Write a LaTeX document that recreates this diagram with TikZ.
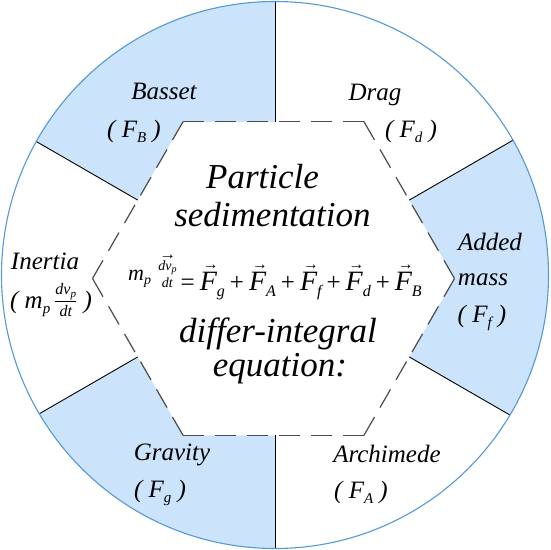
\documentclass[tikz,border=0pt]{standalone}
\usepackage{amsmath}
\usepackage{graphicx}
\usepackage{fontspec}
\setmainfont{Liberation Serif}
\definecolor{fillblue}{RGB}{204,228,251}
\definecolor{rimblue}{RGB}{84,152,214}
\definecolor{hexgray}{RGB}{75,75,75}
\newcommand\fsz[1]{\fontsize{#1}{#1}\selectfont}
\newcommand\lsub[1]{\raisebox{-5pt}{\fsz{15}#1}}
\newcommand\ovarr[3]{\setbox0\hbox{#3}\rlap{\hspace{#1}\raisebox{\dimexpr\ht0+#2\relax}{\resizebox{0.92\wd0}{4.5pt}{\upshape →}}}\box0}
\newcommand\eqF[1]{\ovarr{3pt}{2.5pt}{F}\raisebox{-6pt}{\fsz{16}#1}}
\newcommand\eqplus{\hspace{5pt}{\upshape\fsz{25}+}\hspace{5pt}}
\begin{document}
\begin{tikzpicture}[x=1pt,y=-1pt,
  lbl/.style={font=\fsz{25}\itshape, inner sep=0pt, anchor=base},
  big/.style={font=\fsz{35}\itshape, inner sep=0pt, anchor=base},
  divline/.style={black, line width=0.9pt},
  hexline/.style={hexgray, line width=1.2pt, dash pattern=on 21pt off 11pt},
  rim/.style={rimblue, line width=1.1pt}]
\useasboundingbox (0,0) rectangle (550,550);
\coordinate (C) at (275,275);
\coordinate (TL) at (183,121.75);
\coordinate (TR) at (364,121.75);
\coordinate (R) at (454.5,278.5);
\coordinate (BR) at (364,435.25);
\coordinate (BL) at (183,435.25);
\coordinate (L) at (92.5,278.5);
\coordinate (MUL) at (137.75,200.1);
\coordinate (MUR) at (409.25,200.1);
\coordinate (MLL) at (137.75,356.9);
\coordinate (MLR) at (409.25,356.9);
\coordinate (MT) at (275,121.75);
\coordinate (MB) at (275,435.25);
\coordinate (FUL) at (-208.6,0.1);
\coordinate (FUR) at (755.6,0.1);
\coordinate (FLL) at (-208.6,556.9);
\coordinate (FLR) at (755.6,556.9);
\coordinate (FT) at (275,-300);
\coordinate (FB) at (275,850);
\begin{scope}
  \clip (C) circle[radius=273.5pt];
  \fill[fillblue] (MUL) -- (FUL) -- (FT) -- (MT) -- (TL) -- cycle;
  \fill[fillblue] (MUR) -- (FUR) -- (FLR) -- (MLR) -- (R) -- cycle;
  \fill[fillblue] (MLL) -- (FLL) -- (FB) -- (MB) -- (BL) -- cycle;
  \draw[divline] (MUL) -- (FUL);
  \draw[divline] (MUR) -- (FUR);
  \draw[divline] (MLL) -- (FLL);
  \draw[divline] (MLR) -- (FLR);
  \draw[divline] (MT) -- (FT);
  \draw[divline] (MB) -- (FB);
\end{scope}
\draw[rim] (C) circle[radius=273.5pt];
\draw[hexline] (TL) -- (TR);
\draw[hexline] (TR) -- (R);
\draw[hexline] (R) -- (BR);
\draw[hexline] (BR) -- (BL);
\draw[hexline] (BL) -- (L);
\draw[hexline] (L) -- (TL);
% labels
\node[lbl] (basset) at (164,99) {Basset};
\node[lbl] (fB) at (134,137) {( F\lsub{B} )};
\node[lbl] (drag) at (375,100) {Drag};
\node[lbl] (fd) at (411,137) {( F\lsub{d} )};
\node[lbl] (added) at (490,250) {Added};
\node[lbl] (mass) at (483,285) {mass};
\node[lbl] (ff) at (482,322) {( F\lsub{f} )};
\node[lbl] (inertia) at (45,269) {Inertia};
\node[lbl] (mdt) at (51,308) {( m\lsub{p}\hspace{4pt}$\frac{\hbox{\fsz{16}dv\raisebox{-3pt}{\fsz{11}p}}}{\hbox{\fsz{16}dt}}$ )};
\node[lbl] (gravity) at (172,460) {Gravity};
\node[lbl] (fg) at (160,497) {( F\lsub{g} )};
\node[lbl] (archimede) at (387,462) {Archimede};
\node[lbl] (fA) at (361,498) {( F\lsub{A} )};
% centre text
\node[big] (particle) at (262.5,188) {Particle};
\node[big] (sedim) at (272.5,226) {sedimentation};
\node[big] (differ) at (278,342) {differ-integral};
\node[big] (equation) at (280,376) {equation:};
\node[anchor=base, inner sep=0pt, font=\fsz{28}\itshape] (eq) at (275,290) {%
  \raisebox{10pt}{\fsz{22}m\raisebox{-4pt}{\fsz{14}p}\hspace{6pt}$\genfrac{}{}{0pt}{1}{\hbox{\fsz{14}\itshape \ovarr{1pt}{2pt}{dv\raisebox{-2pt}{\fsz{10}p}}}}{\hbox{\fsz{14}\itshape dt}}$}%
  \hspace{3pt}{\upshape\fsz{25}=}\hspace{5pt}%
  \eqF{g}\eqplus\eqF{A}\eqplus\eqF{f}\eqplus\eqF{d}\eqplus\eqF{B}};
\end{tikzpicture}
\end{document}
